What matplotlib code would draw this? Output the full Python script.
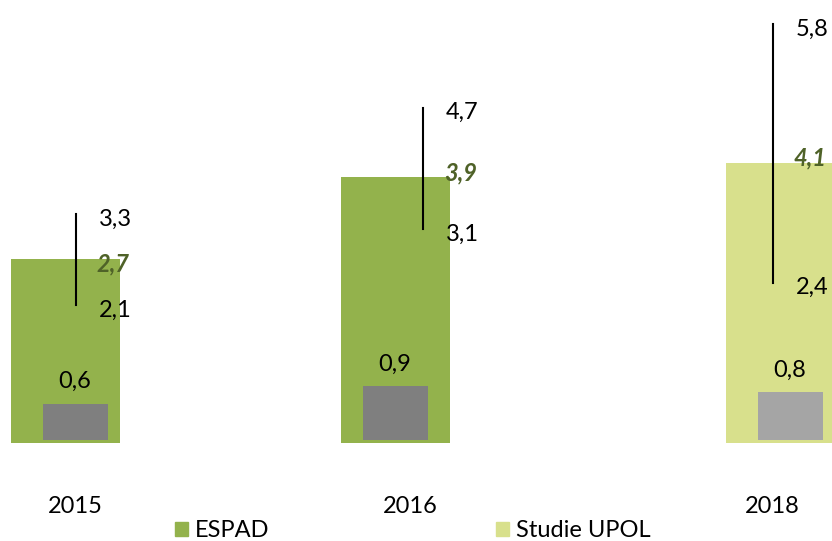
import matplotlib
matplotlib.use('Agg')
import matplotlib.pyplot as plt

plt.rcParams['font.family'] = ['Lato', 'DejaVu Sans']

# data
years = ['2015', '2016', '2018']
prevalence = [2.7, 3.9, 4.1]      # main bars / mean
ci_low = [2.1, 3.1, 2.4]
ci_high = [3.3, 4.7, 5.8]
daily = [0.6, 0.9, 0.8]           # small grey bars
source = ['ESPAD', 'ESPAD', 'Studie UPOL']

# layout (x in pixel units of the canvas)
tick_x = [75, 410, 772]
big_x = [65.5, 395.5, 780.5]
small_x = [75, 395, 790]
line_x = [76, 423, 773]
big_w = 109
small_w = 65

colors = {'ESPAD': '#93B24C', 'Studie UPOL': '#D8E08C'}
grey = ['#7F7F7F', '#7F7F7F', '#A5A5A5']
dark_green = '#4F6228'
fs = 17

def fmt(v):
	return ('%.1f' % v).replace('.', ',')

fig = plt.figure(figsize=(8.32, 5.41), dpi=100)
ax = fig.add_axes([0, 98/541., 1, 443/541.])
ax_err = ax.twinx()
ax_small = ax.twinx()

for a in (ax, ax_err, ax_small):
	for s in a.spines.values():
		s.set_visible(False)
	a.set_yticks([])
	a.set_xlim(0, 832)
	a.patch.set_visible(False)

# big bars
ax.set_ylim(0, 443/68.2)
for i in range(len(years)):
	ax.bar(big_x[i], prevalence[i], width=big_w, color=colors[source[i]], zorder=1)

# small bars on own scale
ax_small.set_ylim(-3/59.5, 440/59.5)
for i in range(len(years)):
	ax_small.bar(small_x[i], daily[i], width=small_w, color=grey[i])
	ax_small.annotate(fmt(daily[i]), (small_x[i], daily[i]), xytext=(0, 11.5), textcoords='offset points',
		ha='center', va='baseline', fontsize=fs, color='black')

# confidence interval lines on own scale
ax_err.set_ylim(22/76., 465/76.)
for i in range(len(years)):
	ax_err.plot([line_x[i], line_x[i]], [ci_low[i], ci_high[i]], color='black', lw=1.5)
	ax_err.annotate(fmt(ci_high[i]), (line_x[i], ci_high[i]), xytext=(16.5, -8.3), textcoords='offset points',
		ha='left', va='baseline', fontsize=fs, color='black')
	ax_err.annotate(fmt(ci_low[i]), (line_x[i], ci_low[i]), xytext=(16.5, -8.3), textcoords='offset points',
		ha='left', va='baseline', fontsize=fs, color='black')
	ax_err.annotate(fmt(prevalence[i]), (line_x[i], prevalence[i]), xytext=(15, -8.3), textcoords='offset points',
		ha='left', va='baseline', fontsize=fs, color=dark_green, fontweight='bold', fontstyle='italic')

ax.set_xticks(tick_x)
ax.set_xticklabels(years, fontsize=fs)
ax.tick_params(axis='x', length=0, pad=38)
ax_err.tick_params(axis='x', length=0, labelbottom=False)
ax_small.tick_params(axis='x', length=0, labelbottom=False)

# legend
handles = [plt.Rectangle((0, 0), 1, 1, color=colors['ESPAD']),
	plt.Rectangle((0, 0), 1, 1, color=colors['Studie UPOL'])]
fig.legend(handles, ['ESPAD', 'Studie UPOL'], loc='center', bbox_to_anchor=(412.5/832, 1-530.5/541.),
	ncol=2, frameon=False, fontsize=fs, handlelength=0.55, handleheight=0.55, handletextpad=0.3,
	columnspacing=9.6, borderpad=0)

fig.savefig('out.png', dpi=100)
